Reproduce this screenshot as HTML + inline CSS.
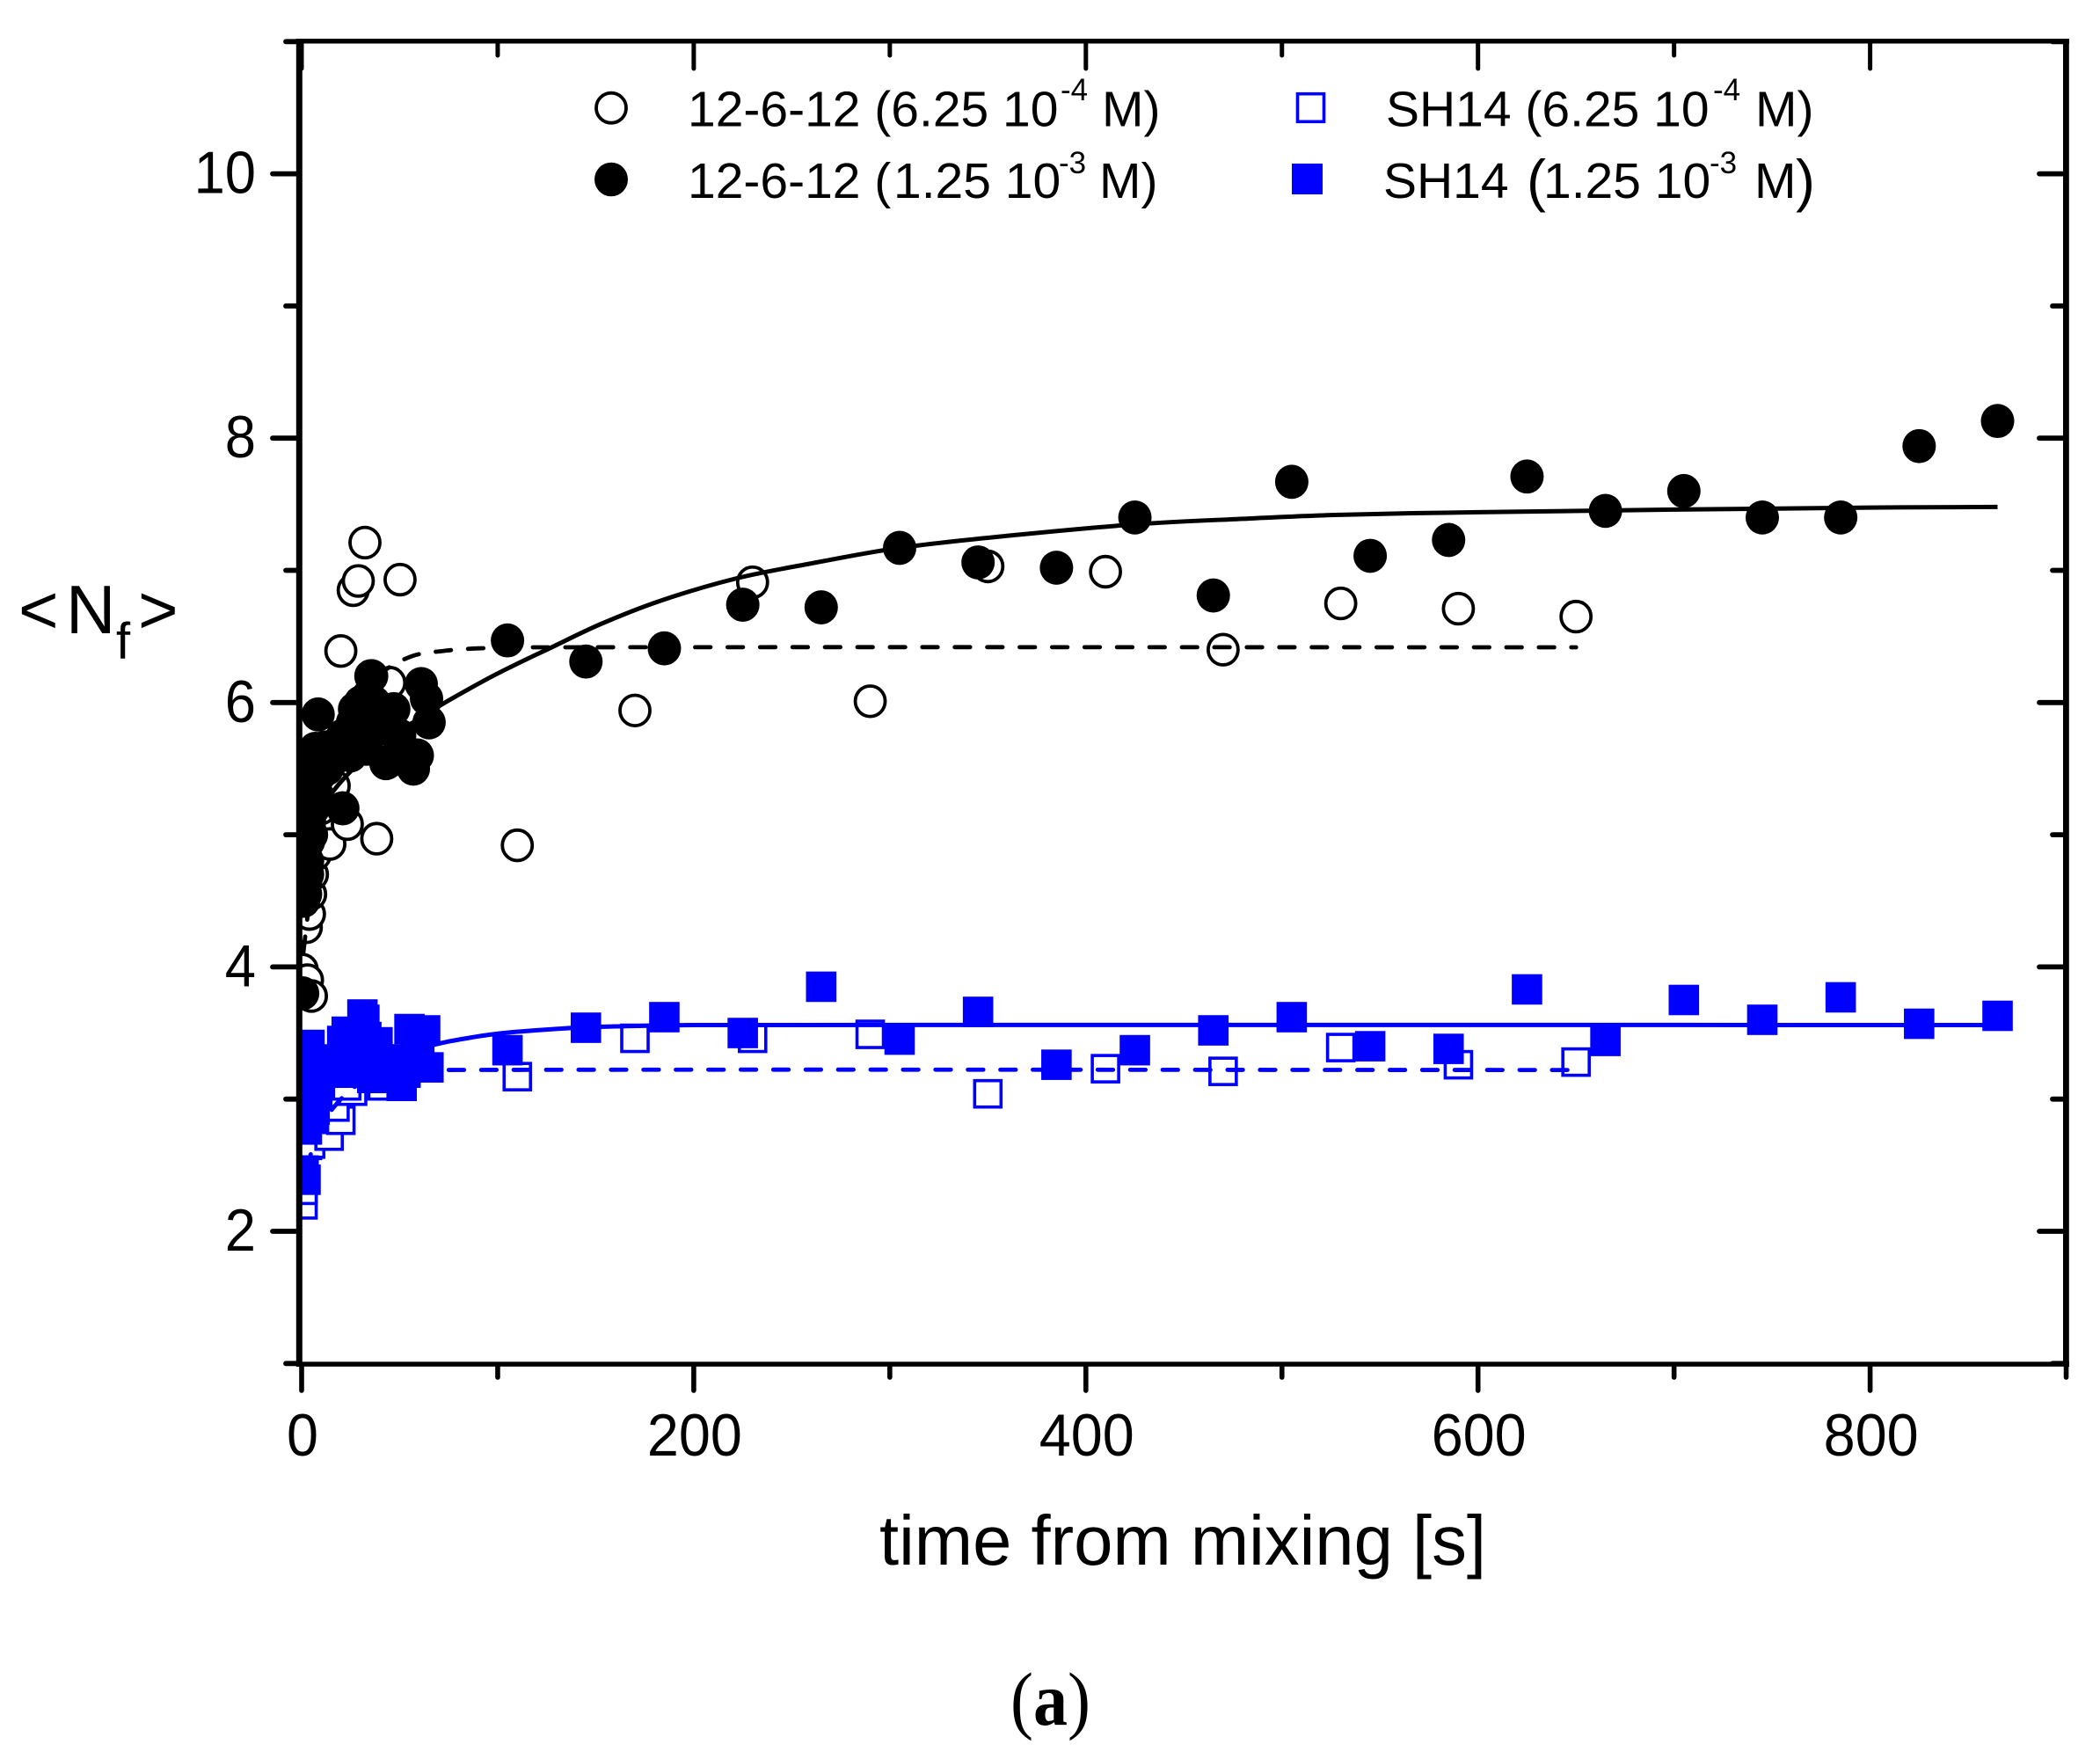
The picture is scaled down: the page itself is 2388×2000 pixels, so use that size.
<!DOCTYPE html>
<html lang="en">
<head>
<meta charset="utf-8">
<title>Average aggregation number vs time from mixing</title>
<style>
html,body{margin:0;padding:0;background:#fff;}
svg{display:block;}
text{font-family:"Liberation Sans",Arial,sans-serif;fill:#000;}
.serif{font-family:"Liberation Serif","Times New Roman",serif;}
</style>
</head>
<body>
<svg id="chart" xmlns="http://www.w3.org/2000/svg" width="2388" height="2000" viewBox="0 0 2388 2000">
  <rect x="0" y="0" width="2388" height="2000" fill="#fff"/>
  <defs><clipPath id="plot-clip"><rect x="340" y="47" width="2010" height="1504"/></clipPath></defs>
  <g id="marks" clip-path="url(#plot-clip)"></g>
  <g id="axes">
    <rect x="336.8" y="44" width="7" height="1510" fill="#000"/>
    <rect x="2346" y="44" width="6.8" height="1510" fill="#000"/>
    <rect x="337" y="44" width="2016" height="5.5" fill="#000"/>
    <rect x="337" y="1548.3" width="2016" height="5.5" fill="#000"/>
  </g>
  <g id="ticks"></g>
  <g id="tick-labels"></g>

  <text x="1000" y="1779" font-size="80" textLength="690" lengthAdjust="spacingAndGlyphs">time from mixing [s]</text>
  <g>
    <text x="21" y="720" font-size="78">&lt;</text>
    <text x="75" y="720" font-size="78">N</text>
    <text x="132" y="749" font-size="58">f</text>
    <text x="157" y="720" font-size="78">&gt;</text>
  </g>
  <text class="serif" x="1149" y="1961" font-size="86" textLength="91" lengthAdjust="spacingAndGlyphs">(<tspan font-weight="bold">a</tspan>)</text>

  <g>
    <g>
      <ellipse cx="695" cy="122.7" rx="17" ry="17" fill="#fff" stroke="#000" stroke-width="3.8"/>
      <text font-size="57"><tspan x="782" y="143.3">12-6-12 (6.25 10</tspan><tspan x="1206" y="114" font-size="35">-4</tspan><tspan x="1253" y="143.3">M)</tspan></text>
    </g>
    <g>
      <ellipse cx="695" cy="204" rx="19" ry="19.3" fill="#000"/>
      <text font-size="57"><tspan x="782" y="225">12-6-12 (</tspan><tspan x="1016" y="225">1.25 10</tspan><tspan x="1204" y="197" font-size="35">-3</tspan><tspan x="1250" y="225">M)</tspan></text>
    </g>
    <g>
      <rect x="1475.5" y="106.7" width="30" height="31.6" fill="#fff" stroke="#0000ff" stroke-width="3.6"/>
      <text font-size="57"><tspan x="1576" y="143.6">SH14 (6.25 10</tspan><tspan x="1948" y="114" font-size="35">-4</tspan><tspan x="1996" y="143.6">M)</tspan></text>
    </g>
    <g>
      <rect x="1469" y="186" width="35" height="35" fill="#0000ff"/>
      <text font-size="57"><tspan x="1573" y="225">SH14</tspan><tspan x="1736" y="228" font-size="66">(</tspan><tspan x="1755" y="225">1.25 10</tspan><tspan x="1944" y="197" font-size="35">-3</tspan><tspan x="1995" y="225">M</tspan><tspan x="2042" y="228" font-size="66">)</tspan></text>
    </g>
  </g>
</svg>
<script>
/* ---------- chart data ---------- */
var xMajorTicks = [0, 200, 400, 600, 800];
var xMinorTicks = [100, 300, 500, 700, 900];
var yMajorTicks = [2, 4, 6, 8, 10];
var yMinorTicks = [1, 3, 5, 7, 9, 11];
var xTickLabels = ["0", "200", "400", "600", "800"];
var yTickLabels = ["2", "4", "6", "8", "10"];

var openCircleTimes = [0.3, 3, 5, 2.4, 4, 4.6, 5.5, 7, 10, 14.4, 16.6, 23.3, 38.3, 30, 43, 20, 26.3, 28.9, 32.3, 50.2, 45, 35.3, 110, 170, 230, 290, 350, 410, 470, 530, 590, 650];
var openCircleValues = [3.98, 3.9, 3.78, 4.3, 4.4, 4.55, 4.7, 4.85, 5.2, 4.93, 5.37, 5.08, 4.97, 5.7, 5.54, 6.39, 6.85, 6.92, 7.21, 6.93, 6.15, 6.2, 4.92, 5.94, 6.91, 6.01, 7.03, 6.99, 6.40, 6.75, 6.71, 6.65];

var filledCircleTimes = [0.5, 1, 2, 2, 3, 3, 3.5, 4, 5, 5, 6, 6, 7, 8, 8.4, 9, 10, 11, 12, 13, 14, 15, 17, 19, 21, 21, 23, 25, 26, 27, 28, 30, 30, 32, 33, 34, 35.7, 36, 37, 39, 42, 43.5, 44, 47, 50, 52, 57, 59, 61, 63.7, 65, 105, 145, 185, 225, 265, 305, 345, 385, 425, 465, 505, 545, 585, 625, 665, 705, 745, 785, 825, 865];
var filledCircleValues = [3.8, 4.5, 4.55, 4.65, 4.7, 4.8, 4.95, 5.1, 5.0, 5.3, 5.2, 5.5, 5.65, 5.3, 5.91, 5.45, 5.6, 5.5, 5.66, 5.5, 5.62, 5.55, 5.68, 5.6, 5.2, 5.75, 5.65, 5.6, 5.85, 5.95, 5.75, 6.0, 5.7, 5.85, 5.65, 6.05, 6.2, 5.8, 6.0, 5.85, 5.9, 5.8, 5.55, 5.95, 5.75, 5.6, 5.5, 5.6, 6.14, 6.03, 5.85, 6.47, 6.31, 6.41, 6.74, 6.72, 7.17, 7.06, 7.02, 7.40, 6.81, 7.67, 7.11, 7.23, 7.71, 7.45, 7.60, 7.40, 7.40, 7.94, 8.13];

var openSquareTimes = [0.7, 0.7, 1, 3, 4.6, 14, 20, 17, 26, 23, 41, 110, 170, 230, 290, 350, 410, 470, 530, 590, 650];
var openSquareValues = [2.2, 2.31, 2.5, 2.65, 2.66, 2.72, 2.84, 2.94, 3.06, 3.1, 3.1, 3.17, 3.46, 3.46, 3.49, 3.04, 3.23, 3.21, 3.39, 3.26, 3.28];

var filledSquareTimes = [2, 1, 2.7, 5, 6.6, 8, 3, 4, 10, 12, 14, 16, 18, 20.7, 23, 25, 27, 29, 31, 32, 33, 35, 36, 38.7, 40, 42, 44, 47, 51, 53, 55, 58, 60, 63, 64.7, 105, 145, 185, 225, 265, 305, 345, 385, 425, 465, 505, 545, 585, 625, 665, 705, 745, 785, 825, 865];
var filledSquareValues = [2.39, 2.46, 2.77, 2.85, 2.92, 3.04, 3.2, 3.41, 3.25, 3.2, 3.3, 3.2, 3.25, 3.44, 3.51, 3.3, 3.2, 3.4, 3.64, 3.6, 3.47, 3.25, 3.16, 3.43, 3.3, 3.16, 3.2, 3.3, 3.1, 3.2, 3.53, 3.35, 3.3, 3.52, 3.24, 3.37, 3.54, 3.62, 3.50, 3.85, 3.45, 3.66, 3.26, 3.37, 3.52, 3.62, 3.40, 3.38, 3.83, 3.44, 3.75, 3.60, 3.77, 3.57, 3.63];

var blackSolidTimes = [0, 20, 40, 60, 72, 85, 100, 115, 125, 152, 183, 222, 259, 305, 366, 427, 480, 529, 600, 700, 800, 865];
var blackSolidValues = [5.0, 5.4, 5.68, 5.88, 5.99, 6.10, 6.22, 6.33, 6.40, 6.59, 6.77, 6.94, 7.05, 7.17, 7.27, 7.35, 7.39, 7.42, 7.44, 7.46, 7.475, 7.48];

var blackDashTimes = [0, 5, 10, 15, 22, 29, 40, 56, 72, 90, 120, 650];
var blackDashValues = [4.0, 4.6, 5.0, 5.5, 5.93, 6.06, 6.22, 6.35, 6.39, 6.41, 6.418, 6.418];

var blueSolidTimes = [0, 10, 20, 40, 60, 70, 80, 97, 115, 140, 160, 200, 865];
var blueSolidValues = [2.95, 3.05, 3.14, 3.28, 3.38, 3.42, 3.45, 3.49, 3.515, 3.54, 3.55, 3.56, 3.56];

var blueDashTimes = [0, 5, 10, 20, 30, 45, 65, 650];
var blueDashValues = [2.3, 2.6, 2.8, 3.0, 3.12, 3.2, 3.22, 3.22];

/* ---------- axis functions ---------- */
function xPos(t) { return 343 + t * 2.2295; }
function yPos(v) { return 1400 - (v - 2) * 150.3; }

var NS = "http://www.w3.org/2000/svg";
var marks = document.getElementById("marks");
var tickGroup = document.getElementById("ticks");
var labelGroup = document.getElementById("tick-labels");

function tickLine(x1, y1, x2, y2, w) {
  var el = document.createElementNS(NS, "line");
  
  
  el.setAttribute("x1", x1);
  el.setAttribute("y1", y1);
  el.setAttribute("x2", x2);
  el.setAttribute("y2", y2);
  el.setAttribute("stroke", "#000");
  el.setAttribute("stroke-width", w);
  el.setAttribute("stroke-linecap", "round");
  tickGroup.appendChild(el);
}

xMajorTicks.forEach(function (t) {
  tickLine(xPos(t), 1552, xPos(t), 1581, 5.6);
  tickLine(xPos(t), 47, xPos(t), 78, 5);
});
xMinorTicks.forEach(function (t) {
  tickLine(xPos(t), 1552, xPos(t), 1566, 5.6);
  tickLine(xPos(t), 47, xPos(t), 63, 5);
});
yMajorTicks.forEach(function (v) {
  tickLine(338, yPos(v), 310, yPos(v), 5.8);
  tickLine(2348, yPos(v), 2319, yPos(v), 5.8);
});
yMinorTicks.forEach(function (v) {
  tickLine(338, yPos(v), 325, yPos(v), 5.8);
  tickLine(2348, yPos(v), 2334, yPos(v), 5.8);
});

xTickLabels.forEach(function (s, i) {
  var el = document.createElementNS(NS, "text");
  
  
  el.setAttribute("x", xPos(xMajorTicks[i]) + 1 - s.length * 18);
  el.setAttribute("y", 1655);
  el.setAttribute("font-size", 68);
  el.setAttribute("textLength", s.length * 36);
  el.setAttribute("lengthAdjust", "spacingAndGlyphs");
  el.textContent = s;
  labelGroup.appendChild(el);
});
yTickLabels.forEach(function (s, i) {
  var el = document.createElementNS(NS, "text");
  
  
  el.setAttribute("x", 291 - s.length * 35.2);
  el.setAttribute("y", yPos(yMajorTicks[i]) + 22);
  el.setAttribute("font-size", 68);
  el.setAttribute("textLength", s.length * 35.2);
  el.setAttribute("lengthAdjust", "spacingAndGlyphs");
  el.textContent = s;
  labelGroup.appendChild(el);
});

function drawCircles(times, values, filled) {
  times.forEach(function (t, i) {
    var el = document.createElementNS(NS, "ellipse");
    
    
    el.setAttribute("cx", xPos(t));
    el.setAttribute("cy", yPos(values[i]));
    el.setAttribute("rx", filled ? 19 : 17);
    el.setAttribute("ry", filled ? 19.4 : 17.3);
    el.setAttribute("fill", filled ? "#000" : "#fff");
    if (!filled) {
      el.setAttribute("stroke", "#000");
      el.setAttribute("stroke-width", 3.8);
    }
    marks.appendChild(el);
  });
}

function drawSquares(times, values, filled) {
  times.forEach(function (t, i) {
    var half = filled ? 17.3 : 15;
    var el = document.createElementNS(NS, "rect");
    
    
    el.setAttribute("x", xPos(t) - half);
    el.setAttribute("y", yPos(values[i]) - half);
    el.setAttribute("width", half * 2);
    el.setAttribute("height", half * 2);
    el.setAttribute("fill", filled ? "#0000ff" : "#fff");
    if (!filled) {
      el.setAttribute("stroke", "#0000ff");
      el.setAttribute("stroke-width", 3.6);
    }
    marks.appendChild(el);
  });
}

/* smooth curve through the array points; optional dash phase aligned to a pixel x */
function drawCurve(times, values, color, dashAnchorX, name) {
  var p = times.map(function (t, i) { return [xPos(t), yPos(values[i])]; });
  var d = "M" + p[0][0].toFixed(1) + " " + p[0][1].toFixed(1);
  for (var i = 0; i < p.length - 1; i++) {
    var p0 = p[Math.max(i - 1, 0)], p1 = p[i], p2 = p[i + 1], p3 = p[Math.min(i + 2, p.length - 1)];
    var seg = Math.hypot(p2[0] - p1[0], p2[1] - p1[1]);
    var k1 = seg / Math.max(Math.hypot(p2[0] - p0[0], p2[1] - p0[1]), 1) / 3;
    var k2 = seg / Math.max(Math.hypot(p3[0] - p1[0], p3[1] - p1[1]), 1) / 3;
    d += " C" + (p1[0] + (p2[0] - p0[0]) * k1).toFixed(1) + " " + (p1[1] + (p2[1] - p0[1]) * k1).toFixed(1) +
         " " + (p2[0] - (p3[0] - p1[0]) * k2).toFixed(1) + " " + (p2[1] - (p3[1] - p1[1]) * k2).toFixed(1) +
         " " + p2[0].toFixed(1) + " " + p2[1].toFixed(1);
  }
  var el = document.createElementNS(NS, "path");
  
  
  el.setAttribute("d", d);
  el.setAttribute("fill", "none");
  el.setAttribute("stroke", color);
  el.setAttribute("stroke-width", dashAnchorX ? 4.8 : 5);
  el.setAttribute("stroke-linejoin", "round");
  marks.appendChild(el);
  if (dashAnchorX) {
    var period = 36.9;
    var total = el.getTotalLength();
    var lo = 0, hi = total;
    for (var n = 0; n < 30; n++) {
      var mid = (lo + hi) / 2;
      if (el.getPointAtLength(mid).x < dashAnchorX + 2.4) { lo = mid; } else { hi = mid; }
    }
    el.setAttribute("stroke-dasharray", "17.5 19.4");
    el.setAttribute("stroke-linecap", "round");
    el.setAttribute("stroke-dashoffset", (period - (lo % period)).toFixed(2));
  }
}

drawCircles(openCircleTimes, openCircleValues, false);
drawCurve(blackDashTimes, blackDashValues, "#000", 788, "fit-line-12-6-12-low");
drawSquares(openSquareTimes, openSquareValues, false);
drawCurve(blueDashTimes, blueDashValues, "#0000ff", 1541, "fit-line-sh14-low");
drawCircles(filledCircleTimes, filledCircleValues, true);
drawCurve(blackSolidTimes, blackSolidValues, "#000", 0, "fit-line-12-6-12-high");
drawSquares(filledSquareTimes, filledSquareValues, true);
drawCurve(blueSolidTimes, blueSolidValues, "#0000ff", 0, "fit-line-sh14-high");
</script>
</body>
</html>
